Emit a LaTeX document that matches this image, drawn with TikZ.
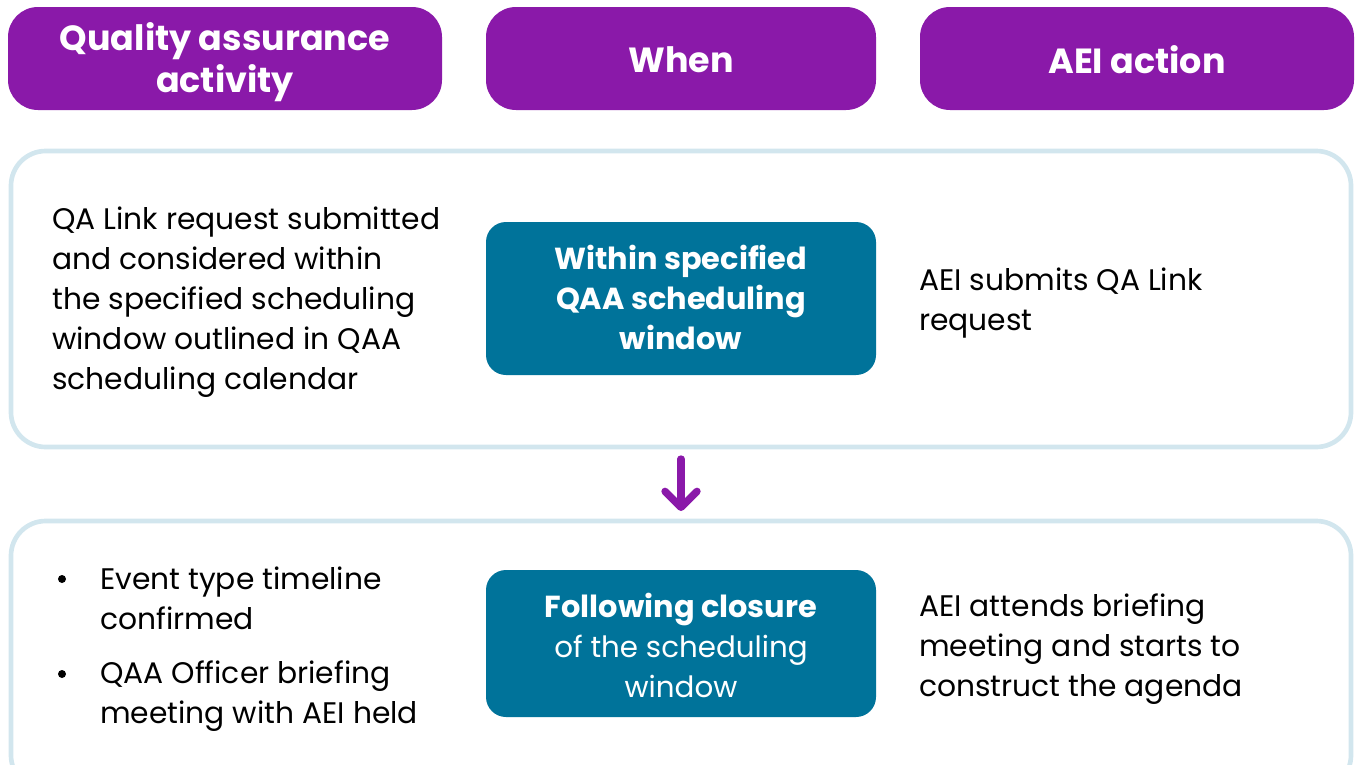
\documentclass[tikz,border=0pt]{standalone}
\usepackage{fontspec}
\setmainfont{Poppins}
\usetikzlibrary{arrows.meta}
\definecolor{qpurple}{HTML}{8A19A9}
\definecolor{qteal}{HTML}{00739A}
\definecolor{qframe}{HTML}{D2E6EE}
\tikzset{
  px/.style={x=0.75pt,y=-0.75pt},
  headbox/.style={fill=qpurple,rounded corners=22.5pt},
  panel/.style={draw=qframe,line width=3.5pt,rounded corners=26pt,fill=white},
  tealbox/.style={fill=qteal,rounded corners=15pt},
  headtxt/.style={text=white,font=\fontsize{26.2}{31.5}\selectfont\bfseries,align=center},
  bodytxt/.style={text=black,font=\fontsize{22.3}{30}\selectfont,align=left,anchor=west,inner sep=0pt},
  tealtxt/.style={text=white,font=\fontsize{22}{30}\selectfont,align=center,inner sep=0pt},
  tealbold/.style={tealtxt,font=\fontsize{22.8}{30}\selectfont\bfseries},
  bulletdot/.style={fill=black,circle,inner sep=0pt,minimum size=6pt},
  flowarrow/.style={draw=qpurple,line width=5.5pt,line cap=round,-{Straight Barb[length=12pt,width=24pt,line width=5.5pt,round]}}
}
\begin{document}
\begin{tikzpicture}[px]
\useasboundingbox (0,0) rectangle (1356,764);
\begin{scope}
\clip (0,0) rectangle (1356,764);
% column headers
\fill[headbox] (8,7) rectangle (442,110);
\fill[headbox] (486,7) rectangle (876,110);
\fill[headbox] (920,7) rectangle (1354,110);
\node[headtxt] (h1) at (225,62) {Quality assurance\\activity};
\node[headtxt] (h2) at (681,60) {When};
\node[headtxt] (h3) at (1137,60) {AEI action};
% stage panels
\draw[panel] (11,151) rectangle (1351,447);
\draw[panel] (11,521) rectangle (1351,790);
% stage 1
\fill[tealbox] (486,222) rectangle (876,375);
\node[tealbold] (w1) at (681,297) {Within specified\\QAA scheduling\\window};
\node[bodytxt] (a1) at (52,302) {QA Link request submitted\\and considered within\\the specified scheduling\\window outlined in QAA\\scheduling calendar};
\node[bodytxt] (r1) at (919,303) {AEI submits QA Link\\request};
% stage 2
\fill[tealbox] (486,570) rectangle (876,717);
\node[tealtxt] (w2) at (681,645) {\textbf{\fontsize{22.8}{30}\selectfont Following closure}\\of the scheduling\\window};
\node[bodytxt] (b1) at (100,598) {Event type timeline\\confirmed};
\node[bodytxt] (b2) at (100,696) {QAA Officer briefing\\meeting with AEI held};
\node[bulletdot] (d1) at (62,579) {};
\node[bulletdot] (d2) at (62,674) {};
\node[bodytxt] (r2) at (919,649) {AEI attends briefing\\meeting and starts to\\construct the agenda};
% transition between stages
\coordinate (s1) at (681,459);
\coordinate (s2) at (681,511);
\draw[flowarrow] (s1) -- (s2);
\end{scope}
\end{tikzpicture}
\end{document}
